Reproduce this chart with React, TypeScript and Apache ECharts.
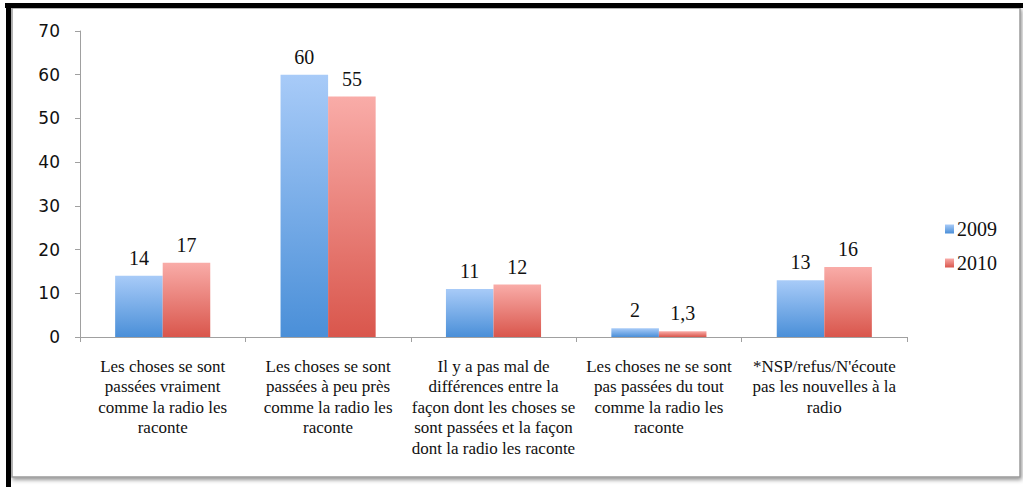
import React, { useEffect, useRef } from "react";
import * as echarts from "echarts";

const categories = [
  "Les choses se sont\npassées vraiment\ncomme la radio les\nraconte",
  "Les choses se sont\npassées à peu près\ncomme la radio les\nraconte",
  "Il y a pas mal de\ndifférences entre la\nfaçon dont les choses se\nsont passées et la façon\ndont la radio les raconte",
  "Les choses ne se sont\npas passées du tout\ncomme la radio les\nraconte",
  "*NSP/refus/N'écoute\npas les nouvelles à la\nradio",
];
const values2009 = [14, 60, 11, 2, 13];
const values2010 = [17, 55, 12, 1.3, 16];
const seriesNames = ["2009", "2010"];

const serif = "Liberation Serif";
const sans = "DejaVu Sans";

const barGradient = (top: string, bottom: string) =>
  new echarts.graphic.LinearGradient(0, 0, 0, 1, [
    { offset: 0, color: top },
    { offset: 1, color: bottom },
  ]);

export default function App() {
  const ref = useRef<HTMLDivElement>(null);

  useEffect(() => {
    if (!ref.current) return;
    const chart = echarts.init(ref.current, undefined, { renderer: "svg" });

    const valueLabel = {
      show: true,
      position: "top" as const,
      distance: 8,
      fontFamily: serif,
      fontSize: 20,
      color: "#111",
      formatter: (p: any) => String(p.value).replace(".", ","),
    };

    chart.setOption({
      animation: false,
      backgroundColor: "#fff",
      graphic: [
        // framed panel with a soft drop shadow
        {
          type: "rect",
          z: -10,
          shape: { x: 12, y: 8, width: 1008, height: 469 },
          style: {
            fill: "#fff",
            stroke: "#9a9a9a",
            lineWidth: 1.5,
            shadowBlur: 4,
            shadowOffsetX: 1,
            shadowOffsetY: 2,
            shadowColor: "rgba(0,0,0,0.45)",
          },
        },
        // heavy black rules along the top and left edges
        {
          type: "rect",
          z: 10,
          shape: { x: 5, y: 3, width: 1018, height: 5 },
          style: { fill: "#000" },
        },
        {
          type: "rect",
          z: 10,
          shape: { x: 6, y: 3, width: 5, height: 484 },
          style: { fill: "#000" },
        },
      ],
      legend: {
        orient: "vertical",
        left: 940,
        top: 214,
        itemWidth: 9,
        itemHeight: 9,
        itemGap: 14,
        icon: "rect",
        textStyle: { fontFamily: serif, fontSize: 20, color: "#111", padding: [3, 0, 0, -2] },
        data: seriesNames,
      },
      grid: { left: 80, right: 116, top: 31, bottom: 150, containLabel: false },
      xAxis: {
        type: "category",
        data: categories,
        axisLine: { lineStyle: { color: "#a0a0a0", width: 1 } },
        axisTick: { show: true, length: 5, lineStyle: { color: "#a0a0a0" } },
        axisLabel: {
          interval: 0,
          margin: 19,
          fontFamily: serif,
          fontSize: 17,
          lineHeight: 20.5,
          color: "#111",
          align: "center",
        },
      },
      yAxis: {
        type: "value",
        min: 0,
        max: 70,
        interval: 10,
        splitLine: { show: false },
        axisLine: { show: true, lineStyle: { color: "#a0a0a0", width: 1 } },
        axisTick: { show: true, length: 5, lineStyle: { color: "#a0a0a0" } },
        axisLabel: { margin: 20, fontFamily: sans, fontSize: 17, color: "#111" },
      },
      series: [
        {
          name: seriesNames[0],
          type: "bar",
          data: values2009,
          barGap: "0%",
          barCategoryGap: "42.5%",
          itemStyle: { color: barGradient("#a8cbf8", "#4a8fd8") },
          label: valueLabel,
        },
        {
          name: seriesNames[1],
          type: "bar",
          data: values2010,
          barGap: "0%",
          barCategoryGap: "42.5%",
          itemStyle: { color: barGradient("#f9aca8", "#d9564c") },
          label: valueLabel,
        },
      ],
    });

    return () => chart.dispose();
  }, []);

  return (
    <div
      ref={ref}
      style={{ position: "absolute", left: 0, top: 0, width: 1023, height: 487 }}
    />
  );
}
